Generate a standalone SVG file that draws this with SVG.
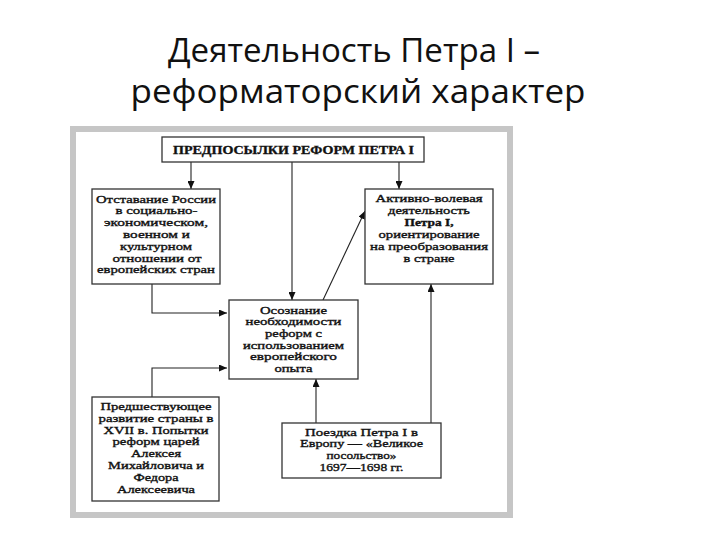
<svg xmlns="http://www.w3.org/2000/svg" width="720" height="540" viewBox="0 0 720 540">
<style>
.h{font-family:"Open Sans","Liberation Sans",sans-serif;font-size:33px;fill:#111;text-anchor:middle}
.t{font-family:"Liberation Serif","DejaVu Serif",serif;font-size:10.5px;fill:#111;text-anchor:middle;stroke:#111;stroke-width:0.35}
.b{font-weight:bold}
.tt{font-size:12px}
.box{fill:#fff;stroke:#333;stroke-width:1.3}
.c{fill:none;stroke:#222;stroke-width:1.1}
</style>
<defs>
<marker id="ar" markerUnits="userSpaceOnUse" markerWidth="8" markerHeight="7" refX="8" refY="3.5" orient="auto">
<path d="M0,0 L8,3.5 L0,7 z" fill="#111"/>
</marker>
</defs>
<rect width="720" height="540" fill="#fff"/>
<g id="heading">
<text class="h" x="354" y="62" textLength="372" lengthAdjust="spacingAndGlyphs">Деятельность Петра I –</text>
<text class="h" x="358" y="103" textLength="455" lengthAdjust="spacingAndGlyphs">реформаторский характер</text>
</g>
<rect id="frame" x="73" y="129" width="437" height="386" fill="#fff" stroke="#c6c6c6" stroke-width="6"/>
<g id="connectors">
<path class="c" d="M191,162 V189" marker-end="url(#ar)"/>
<path class="c" d="M399,162 V189" marker-end="url(#ar)"/>
<path class="c" d="M292,162 V300" marker-end="url(#ar)"/>
<path class="c" d="M152,284 V313 H227" marker-end="url(#ar)"/>
<path class="c" d="M152,397 V368 H227" marker-end="url(#ar)"/>
<path class="c" d="M323,300 L365,211" marker-end="url(#ar)"/>
<path class="c" d="M316,423 V379" marker-end="url(#ar)"/>
<path class="c" d="M431,423 V284" marker-end="url(#ar)"/>
</g>
<g id="title">
<rect class="box" x="162" y="137" width="262" height="25"/>
<text class="t b tt" x="293.5" y="153.5" textLength="241" lengthAdjust="spacingAndGlyphs">ПРЕДПОСЫЛКИ РЕФОРМ ПЕТРА I</text>
</g>
<g id="lag">
<rect class="box" x="92" y="189" width="128" height="95"/>
<text class="t" x="156" y="202.5" textLength="120" lengthAdjust="spacingAndGlyphs">Отставание России</text>
<text class="t" x="156.5" y="214.3" textLength="82" lengthAdjust="spacingAndGlyphs">в социально-</text>
<text class="t" x="156" y="226.1" textLength="104" lengthAdjust="spacingAndGlyphs">экономическом,</text>
<text class="t" x="156.5" y="237.9" textLength="67" lengthAdjust="spacingAndGlyphs">военном и</text>
<text class="t" x="156" y="249.7" textLength="72" lengthAdjust="spacingAndGlyphs">культурном</text>
<text class="t" x="157" y="261.5" textLength="89" lengthAdjust="spacingAndGlyphs">отношении от</text>
<text class="t" x="156" y="273.3" textLength="118" lengthAdjust="spacingAndGlyphs">европейских стран</text>
</g>
<g id="activity">
<rect class="box" x="365" y="189" width="128" height="95"/>
<text class="t" x="429" y="202" textLength="107" lengthAdjust="spacingAndGlyphs">Активно-волевая</text>
<text class="t" x="429" y="214" textLength="82" lengthAdjust="spacingAndGlyphs">деятельность</text>
<text class="t b" x="429" y="226" textLength="49" lengthAdjust="spacingAndGlyphs">Петра I,</text>
<text class="t" x="429" y="238" textLength="101" lengthAdjust="spacingAndGlyphs">ориентирование</text>
<text class="t" x="429" y="250" textLength="118" lengthAdjust="spacingAndGlyphs">на преобразования</text>
<text class="t" x="429" y="262" textLength="51" lengthAdjust="spacingAndGlyphs">в стране</text>
</g>
<g id="awareness">
<rect class="box" x="229" y="300" width="129" height="79"/>
<text class="t" x="293.5" y="313.5" textLength="67" lengthAdjust="spacingAndGlyphs">Осознание</text>
<text class="t" x="293.5" y="325.2" textLength="96" lengthAdjust="spacingAndGlyphs">необходимости</text>
<text class="t" x="293.5" y="336.9" textLength="57" lengthAdjust="spacingAndGlyphs">реформ с</text>
<text class="t" x="293.5" y="348.6" textLength="101" lengthAdjust="spacingAndGlyphs">использованием</text>
<text class="t" x="293.5" y="360.3" textLength="87" lengthAdjust="spacingAndGlyphs">европейского</text>
<text class="t" x="293.5" y="372" textLength="38" lengthAdjust="spacingAndGlyphs">опыта</text>
</g>
<g id="previous">
<rect class="box" x="92" y="397" width="127" height="104"/>
<text class="t" x="156" y="410" textLength="111" lengthAdjust="spacingAndGlyphs">Предшествующее</text>
<text class="t" x="156" y="421.8" textLength="115" lengthAdjust="spacingAndGlyphs">развитие страны в</text>
<text class="t" x="156" y="433.6" textLength="105" lengthAdjust="spacingAndGlyphs">XVII в. Попытки</text>
<text class="t" x="156" y="445.4" textLength="87" lengthAdjust="spacingAndGlyphs">реформ царей</text>
<text class="t" x="156" y="457.2" textLength="50" lengthAdjust="spacingAndGlyphs">Алексея</text>
<text class="t" x="156" y="469" textLength="96" lengthAdjust="spacingAndGlyphs">Михайловича и</text>
<text class="t" x="156" y="480.8" textLength="45" lengthAdjust="spacingAndGlyphs">Федора</text>
<text class="t" x="156" y="492.6" textLength="78" lengthAdjust="spacingAndGlyphs">Алексеевича</text>
</g>
<g id="embassy">
<rect class="box" x="282" y="423" width="159" height="55"/>
<text class="t" x="361.5" y="435.5" textLength="113" lengthAdjust="spacingAndGlyphs">Поездка Петра I в</text>
<text class="t" x="361.5" y="447.2" textLength="123" lengthAdjust="spacingAndGlyphs">Европу — «Великое</text>
<text class="t" x="361.5" y="458.9" textLength="70" lengthAdjust="spacingAndGlyphs">посольство»</text>
<text class="t" x="361.5" y="470.6" textLength="84" lengthAdjust="spacingAndGlyphs">1697—1698 гг.</text>
</g>
</svg>
